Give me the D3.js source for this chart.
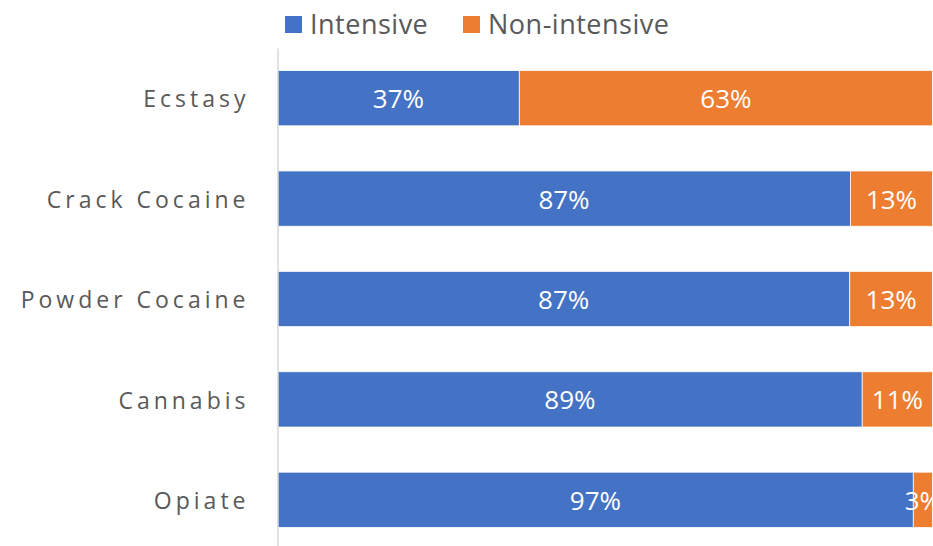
<!DOCTYPE html>
<html><head><meta charset="utf-8">
<script src="https://cdn.jsdelivr.net/npm/d3@7"></script>
<style>
html,body{margin:0;padding:0;background:#fff;overflow:hidden;}
svg{display:block;}
text{font-family:"Open Sans",sans-serif;}
</style></head>
<body>
<svg id="chart" width="933" height="546"></svg>
<script>
const categories = ["Ecstasy","Crack Cocaine","Powder Cocaine","Cannabis","Opiate"];
const intensive = [36.9, 87.45, 87.35, 89.25, 97.05];
const nonIntensive = [63.1, 12.55, 12.65, 10.75, 2.95];
const seriesNames = ["Intensive","Non-intensive"];
const colors = ["#4472C4","#ED7D31"];

const svg = d3.select("#chart");
const x = d3.scaleLinear().domain([0,100]).range([277.6,932.6]);
const y = d3.scaleBand().domain(categories).range([48,550]).paddingInner(0.45).paddingOuter(0.225);

const rows = categories.map((c,i)=>({cat:c, values:[intensive[i], nonIntensive[i]]}));
const stacked = [];
rows.forEach(r=>{
  let acc=0;
  r.values.forEach((v,j)=>{ stacked.push({cat:r.cat, s:j, x0:acc, x1:acc+v, v}); acc+=v; });
});

svg.append("g").selectAll("rect").data(stacked).join("rect")
  .attr("x",d=>x(d.x0)).attr("width",d=>x(d.x1)-x(d.x0))
  .attr("y",d=>y(d.cat)).attr("height",y.bandwidth())
  .attr("fill",d=>colors[d.s]).attr("stroke","#fff").attr("stroke-width",0.75);

svg.append("g").selectAll("text").data(stacked).join("text")
  .attr("x",d=>(x(d.x0)+x(d.x1))/2).attr("y",d=>y(d.cat)+y.bandwidth()/2)
  .attr("text-anchor","middle").attr("dominant-baseline","central")
  .attr("fill","#fff").style("font-size","26px")
  .text(d=>Math.round(d.v)+"%");

// y axis
const yAxis = d3.axisLeft(y).tickSize(0).tickPadding(28);
const ga = svg.append("g").attr("transform","translate(277.5,0)").call(yAxis);
ga.select(".domain").attr("stroke","#D9D9D9").attr("stroke-width",1.5);
ga.selectAll("text").attr("fill","#595959").style("font-size","23px")
  .style("letter-spacing","4px").style("font-family","'Open Sans', sans-serif")
  .attr("dy","0.4em");

// legend
const leg = svg.append("g");
const legX = [285, 463];
seriesNames.forEach((n,i)=>{
  leg.append("rect").attr("x",legX[i]).attr("y",16).attr("width",17).attr("height",17).attr("fill",colors[i]);
  leg.append("text").attr("x",legX[i]+25).attr("y",23.5).attr("dominant-baseline","central")
    .attr("fill","#595959").style("font-size","27px").style("letter-spacing","0.5px").text(n);
});
</script>
</body></html>
